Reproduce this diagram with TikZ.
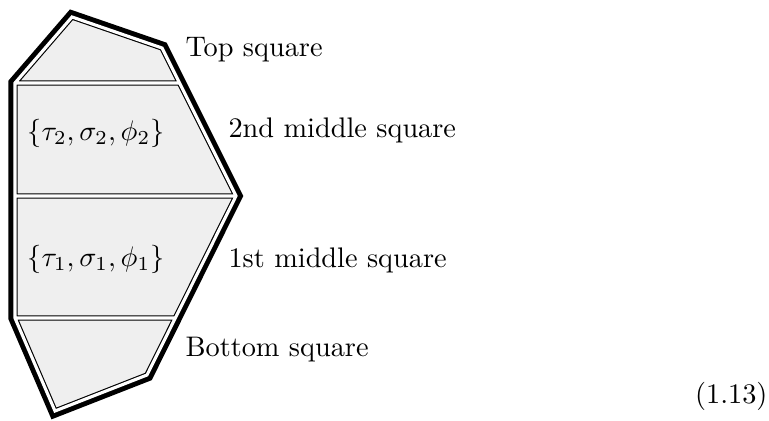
\documentclass[tikz,border=0pt]{standalone}
\usetikzlibrary{positioning}
\definecolor{Cell}{HTML}{EFEFEF}

\begin{document}
\begin{tikzpicture}[
  x=0.3533pt,y=-0.3533pt,line join=miter,
  hull/.style={draw=black,line width=4.6pt},
  wall/.style={draw=black,line width=0.4pt,double=white,double distance=1.1pt},
  cell/.style={fill=Cell},
  tag/.style={anchor=base west,inner sep=0pt}
]
  \useasboundingbox (0,0) rectangle (769,421);
  % corners of the outline
  \coordinate (apex) at (72,17);
  \coordinate (topR) at (162,48);
  \coordinate (tip) at (236,196);
  \coordinate (botR) at (147,375);
  \coordinate (foot) at (55,411);
  \coordinate (botL) at (15,318);
  \coordinate (topL) at (15,83);
  % ends of the three cuts
  \coordinate (midL) at (15,196);
  \coordinate (cutA) at (179.5,83);
  \coordinate (cutB) at (175.5,318);

  \draw[hull] (topL) -- (apex) -- (topR) -- (tip) -- (botR) -- (foot) -- (botL) -- cycle;
  \fill[cell] (topL) -- (apex) -- (topR) -- (tip) -- (botR) -- (foot) -- (botL) -- cycle;
  \draw[wall] (topL) -- (apex) -- (topR) -- (tip) -- (botR) -- (foot) -- (botL) -- cycle
    (topL) -- (cutA) (midL) -- (tip) (botL) -- (cutB);

  \node (set2) at (96,133) {$\{\tau_2,\sigma_2,\phi_2\}$};
  \node (set1) at (96,259) {$\{\tau_1,\sigma_1,\phi_1\}$};

  \node[tag] (top) at (185,57) {Top square};
  \node[tag] (mid2) at (228,138) {2nd middle square};
  \node[tag] (mid1) at (228,268) {1st middle square};
  \node[tag] (bot) at (185,357) {Bottom square};
  \node[anchor=base east,inner sep=0pt] (eqno) at (768,403) {(1.13)};
\end{tikzpicture}
\end{document}
